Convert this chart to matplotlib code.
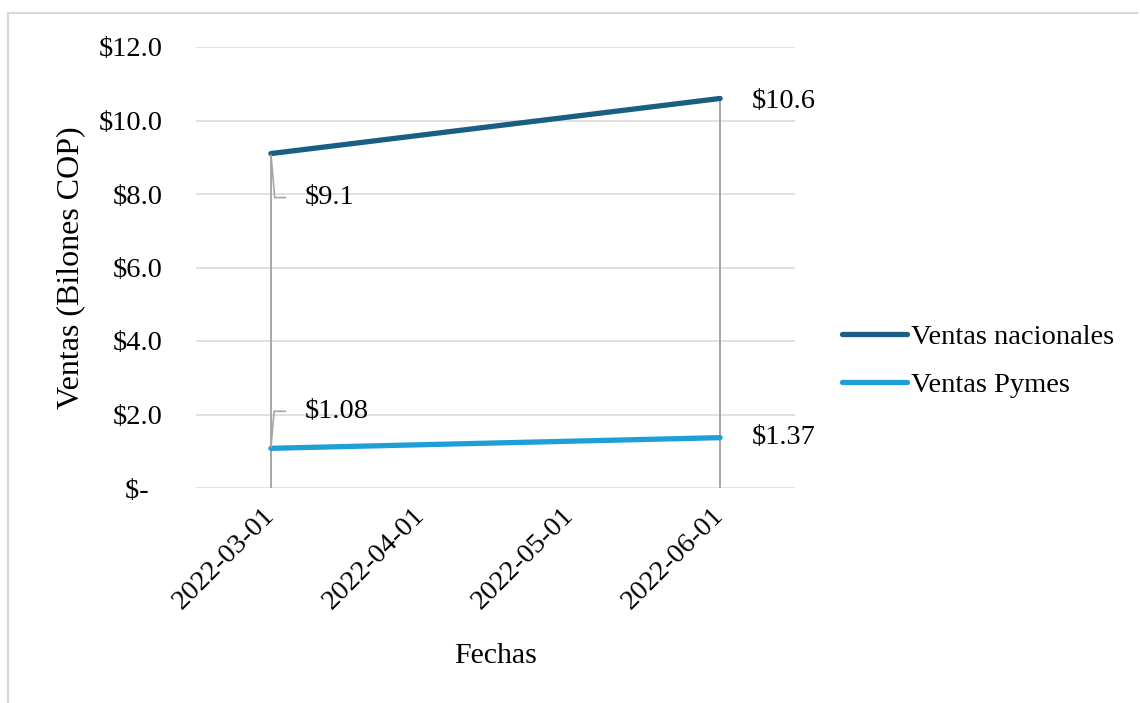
import matplotlib
matplotlib.use('Agg')
import matplotlib.pyplot as plt
from matplotlib.lines import Line2D
from matplotlib.ticker import FuncFormatter

plt.rcParams['font.family'] = ['Liberation Serif', 'DejaVu Serif']

fechas = ["2022-03-01", "2022-04-01", "2022-05-01", "2022-06-01"]
pos_datos = [0, 3]  # solo marzo y junio tienen valor
ventas_nacionales = [9.1, 10.6]
ventas_pymes = [1.08, 1.37]
etiquetas_nac = ["$9.1", "$10.6"]
etiquetas_pym = ["$1.08", "$1.37"]

c_nac = "#1b5e83"
c_pym = "#1e9fd7"

fig = plt.figure(figsize=(11.4, 7.03), dpi=100)
ax = fig.add_axes([196 / 1140, 1 - 488 / 703, (795 - 196) / 1140, (488 - 47) / 703])

# lineas de caida (drop lines)
tops = [max(a, b) for a, b in zip(ventas_nacionales, ventas_pymes)]
ax.vlines(pos_datos, 0, tops, color="#a6a6a6", lw=1.4, zorder=2)

ax.plot(pos_datos, ventas_nacionales, color=c_nac, lw=3.8, solid_capstyle='round',
        label="Ventas nacionales", zorder=3)
ax.plot(pos_datos, ventas_pymes, color=c_pym, lw=3.8, solid_capstyle='round',
        label="Ventas Pymes", zorder=3)

lead = dict(arrowstyle='-', color="#a6a6a6", lw=1.2,
            connectionstyle="angle,angleA=0,angleB=95,rad=0",
            shrinkA=12, shrinkB=1, relpos=(0, 0.5))
fs = 20.5
ax.annotate(etiquetas_nac[0], xy=(pos_datos[0], ventas_nacionales[0]),
            xytext=(34, -44), textcoords='offset pixels', fontsize=fs,
            ha='left', va='center', arrowprops=lead)
ax.annotate(etiquetas_pym[0], xy=(pos_datos[0], ventas_pymes[0]),
            xytext=(34, 37), textcoords='offset pixels', fontsize=fs,
            ha='left', va='center', arrowprops=dict(lead, connectionstyle="angle,angleA=0,angleB=85,rad=0"))
ax.annotate(etiquetas_nac[1], xy=(pos_datos[1], ventas_nacionales[1]),
            xytext=(32, -3), textcoords='offset pixels', fontsize=fs,
            ha='left', va='center')
ax.annotate(etiquetas_pym[1], xy=(pos_datos[1], ventas_pymes[1]),
            xytext=(32, 0), textcoords='offset pixels', fontsize=fs,
            ha='left', va='center')

ax.set_xlim(-0.5, 3.5)
ax.set_ylim(0, 12)
ax.set_yticks([0, 2, 4, 6, 8, 10, 12])
ax.yaxis.set_major_formatter(FuncFormatter(lambda v, p: "$-  " if v == 0 else f"${v:.1f}"))
ax.set_xticks(range(len(fechas)))
ax.set_xticklabels(fechas, rotation=45, ha='right', va='center', rotation_mode='anchor')
ax.tick_params(axis='y', length=0, pad=24, labelsize=fs)
ax.tick_params(axis='x', length=0, pad=17, labelsize=fs)
ax.grid(axis='y', color="#d9d9d9", lw=1.1)
ax.set_axisbelow(True)
for s in ax.spines.values():
    s.set_visible(False)

ax.set_xlabel("Fechas", fontsize=21.5, labelpad=21)
ax.set_ylabel("Ventas (Bilones COP)", fontsize=23, labelpad=10)

fig.legend(loc='center left', bbox_to_anchor=(842 / 1140, 1 - 361 / 703),
           frameon=False, fontsize=fs, handlelength=2.3, handletextpad=0.14,
           labelspacing=0.78, borderpad=0, borderaxespad=0)

# borde del grafico
fig.add_artist(Line2D([8 / 1140, 1137 / 1140], [1 - 13 / 703, 1 - 13 / 703],
                      transform=fig.transFigure, color="#d9d9d9", lw=1.5))
fig.add_artist(Line2D([8 / 1140, 8 / 1140], [0, 1 - 13 / 703],
                      transform=fig.transFigure, color="#d9d9d9", lw=1.5))

fig.savefig("out.png", dpi=100)
